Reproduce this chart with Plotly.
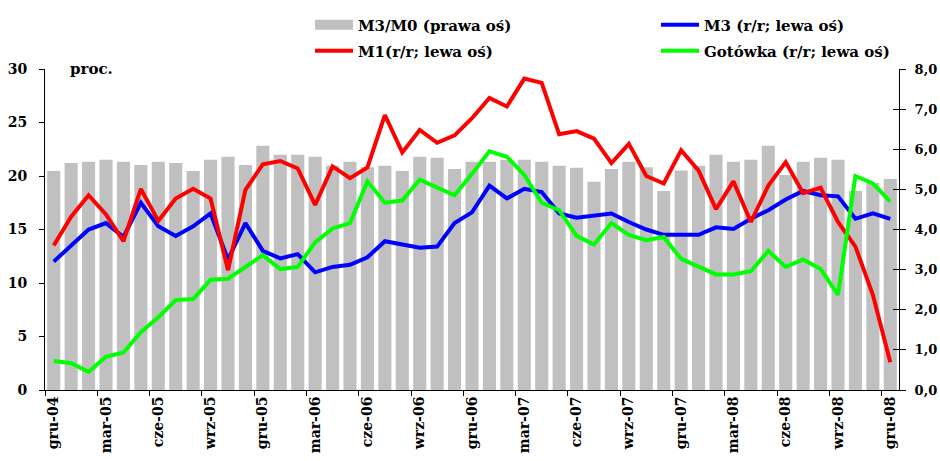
import plotly.graph_objects as go

months = ["gru-04","sty-05","lut-05","mar-05","kwi-05","maj-05","cze-05","lip-05","sie-05","wrz-05","paź-05","lis-05",
          "gru-05","sty-06","lut-06","mar-06","kwi-06","maj-06","cze-06","lip-06","sie-06","wrz-06","paź-06","lis-06",
          "gru-06","sty-07","lut-07","mar-07","kwi-07","maj-07","cze-07","lip-07","sie-07","wrz-07","paź-07","lis-07",
          "gru-07","sty-08","lut-08","mar-08","kwi-08","maj-08","cze-08","lip-08","sie-08","wrz-08","paź-08","lis-08",
          "gru-08"]

m3_m0 = [5.46,5.66,5.69,5.74,5.69,5.61,5.69,5.66,5.46,5.74,5.81,5.61,
         6.09,5.86,5.86,5.81,5.59,5.69,5.55,5.59,5.46,5.81,5.79,5.51,
         5.69,5.69,5.74,5.74,5.69,5.59,5.54,5.19,5.51,5.69,5.55,4.96,
         5.47,5.59,5.86,5.69,5.74,6.09,5.36,5.69,5.79,5.74,4.96,5.16,
         5.26]

m3 = [12.0,13.5,15.0,15.6,14.3,17.5,15.3,14.4,15.3,16.5,12.2,15.6,
      13.0,12.3,12.7,11.0,11.5,11.7,12.4,13.9,13.6,13.3,13.4,15.6,
      16.6,19.1,17.9,18.8,18.5,16.5,16.1,16.3,16.5,15.7,15.0,14.5,
      14.5,14.5,15.2,15.05,16.0,16.8,17.8,18.6,18.2,18.1,16.0,16.5,
      16.0]

m1 = [13.5,16.2,18.2,16.4,13.9,18.8,15.8,17.9,18.8,17.9,11.2,18.7,
      21.1,21.4,20.7,17.3,20.9,19.8,20.8,25.7,22.2,24.3,23.1,23.8,
      25.4,27.3,26.5,29.1,28.7,23.9,24.2,23.5,21.2,23.0,20.0,19.3,
      22.4,20.5,16.9,19.5,15.7,19.1,21.3,18.4,18.9,15.7,13.4,8.9,
      2.6]

gotowka = [2.7,2.5,1.7,3.1,3.5,5.4,6.8,8.4,8.5,10.3,10.4,11.5,
           12.6,11.3,11.5,13.8,15.1,15.6,19.5,17.5,17.7,19.65,18.95,18.2,
           20.2,22.3,21.8,20.1,17.5,16.8,14.4,13.6,15.6,14.5,14.0,14.3,
           12.25,11.5,10.8,10.8,11.1,13.0,11.5,12.2,11.3,8.9,20.0,19.3,
           17.6]

left_ticks = [0, 5, 10, 15, 20, 25, 30]
right_ticks = [0, 1, 2, 3, 4, 5, 6, 7, 8]
right_ticktext = ["0,0","1,0","2,0","3,0","4,0","5,0","6,0","7,0","8,0"]

x = list(range(len(months)))
label_idx = list(range(0, len(months), 3))

FONT = "DejaVu Serif"
W, H = 940, 461
BAR_COLOR = "#C0C0C0"

fig = go.Figure()
fig.add_trace(go.Bar(x=x, y=m3_m0, name="M3/M0 (prawa oś)", marker_color=BAR_COLOR,
                     marker_line_width=0, yaxis="y", showlegend=False))
# legend proxy for the bar series (wide grey box as in the original)
fig.add_trace(go.Scatter(x=[None], y=[None], name="M3/M0 (prawa oś)", mode="lines",
                         line=dict(color=BAR_COLOR, width=12), yaxis="y", legend="legend"))
fig.add_trace(go.Scatter(x=x, y=m3, name="M3 (r/r; lewa oś)", mode="lines",
                         line=dict(color="#0000FF", width=4), yaxis="y2", legend="legend2"))
fig.add_trace(go.Scatter(x=x, y=m1, name="M1(r/r; lewa oś)", mode="lines",
                         line=dict(color="#FF0000", width=4), yaxis="y2", legend="legend3"))
fig.add_trace(go.Scatter(x=x, y=gotowka, name="Gotówka (r/r; lewa oś)", mode="lines",
                         line=dict(color="#00FF00", width=4), yaxis="y2", legend="legend4"))
# helper traces so the tick-only axes get drawn
fig.add_trace(go.Scatter(x=[None], y=[None], xaxis="x2", yaxis="y", showlegend=False, hoverinfo="skip"))
fig.add_trace(go.Scatter(x=[None], y=[None], xaxis="x", yaxis="y3", showlegend=False, hoverinfo="skip"))

tf = dict(family=FONT, size=14, color="black", weight="bold")
tf_right = dict(family=FONT, size=13, color="black", weight="bold")
lf = dict(family=FONT, size=15, color="black", weight="bold")


def leg(px, py):
    return dict(orientation="h", xref="container", yref="container",
                x=px / W, xanchor="left", y=1 - py / H, yanchor="middle",
                itemwidth=38, bgcolor="rgba(0,0,0,0)", font=lf)


fig.update_layout(
    width=W, height=H,
    margin=dict(l=45, r=41, t=69, b=71, autoexpand=False),
    plot_bgcolor="white", paper_bgcolor="white",
    bargap=0.25,
    font=dict(family=FONT, color="black"),
    xaxis=dict(range=[-0.5, len(months) - 0.5], tickmode="array", tickvals=label_idx,
               ticktext=[months[i] for i in label_idx], tickangle=-90, ticks="",
               showline=True, linecolor="black", linewidth=1, showgrid=False, zeroline=False,
               tickfont=tf),
    xaxis2=dict(overlaying="x", anchor="y", range=[-0.5, len(months) - 0.5], tickmode="array",
                tickvals=[i - 0.5 for i in label_idx], ticks="outside", ticklen=5, tickcolor="black",
                showticklabels=False, showline=False, showgrid=False, zeroline=False, side="bottom"),
    yaxis=dict(side="right", range=[0, 8], tickmode="array", tickvals=right_ticks,
               ticktext=right_ticktext, ticks="outside", ticklen=6, tickcolor="black",
               showline=True, linecolor="black", linewidth=1, showgrid=False, zeroline=False,
               tickfont=tf_right, ticklabelstandoff=6),
    yaxis3=dict(overlaying="y", side="right", anchor="x", range=[0, 8], tickmode="array",
                tickvals=right_ticks, ticks="inside", ticklen=6, tickcolor="black",
                showticklabels=False, showline=False, showgrid=False, zeroline=False),
    yaxis2=dict(overlaying="y", side="left", range=[0, 30], tickmode="array", tickvals=left_ticks,
                ticks="outside", ticklen=5, tickcolor="black",
                showline=True, linecolor="black", linewidth=1, showgrid=False, zeroline=False,
                tickfont=tf, ticklabelstandoff=9),
    legend=leg(310, 25),
    legend2=leg(656, 25),
    legend3=leg(310, 51),
    legend4=leg(656, 51),
    annotations=[dict(text="proc.", xref="paper", yref="paper", x=0.027, y=1.0,
                      xanchor="left", yanchor="middle", showarrow=False,
                      font=dict(family=FONT, size=15, color="black", weight="bold"))],
)

fig.write_html("out.html", config={"displayModeBar": False},
               post_script="document.body.style.margin='0px';document.body.style.overflow='hidden';")
